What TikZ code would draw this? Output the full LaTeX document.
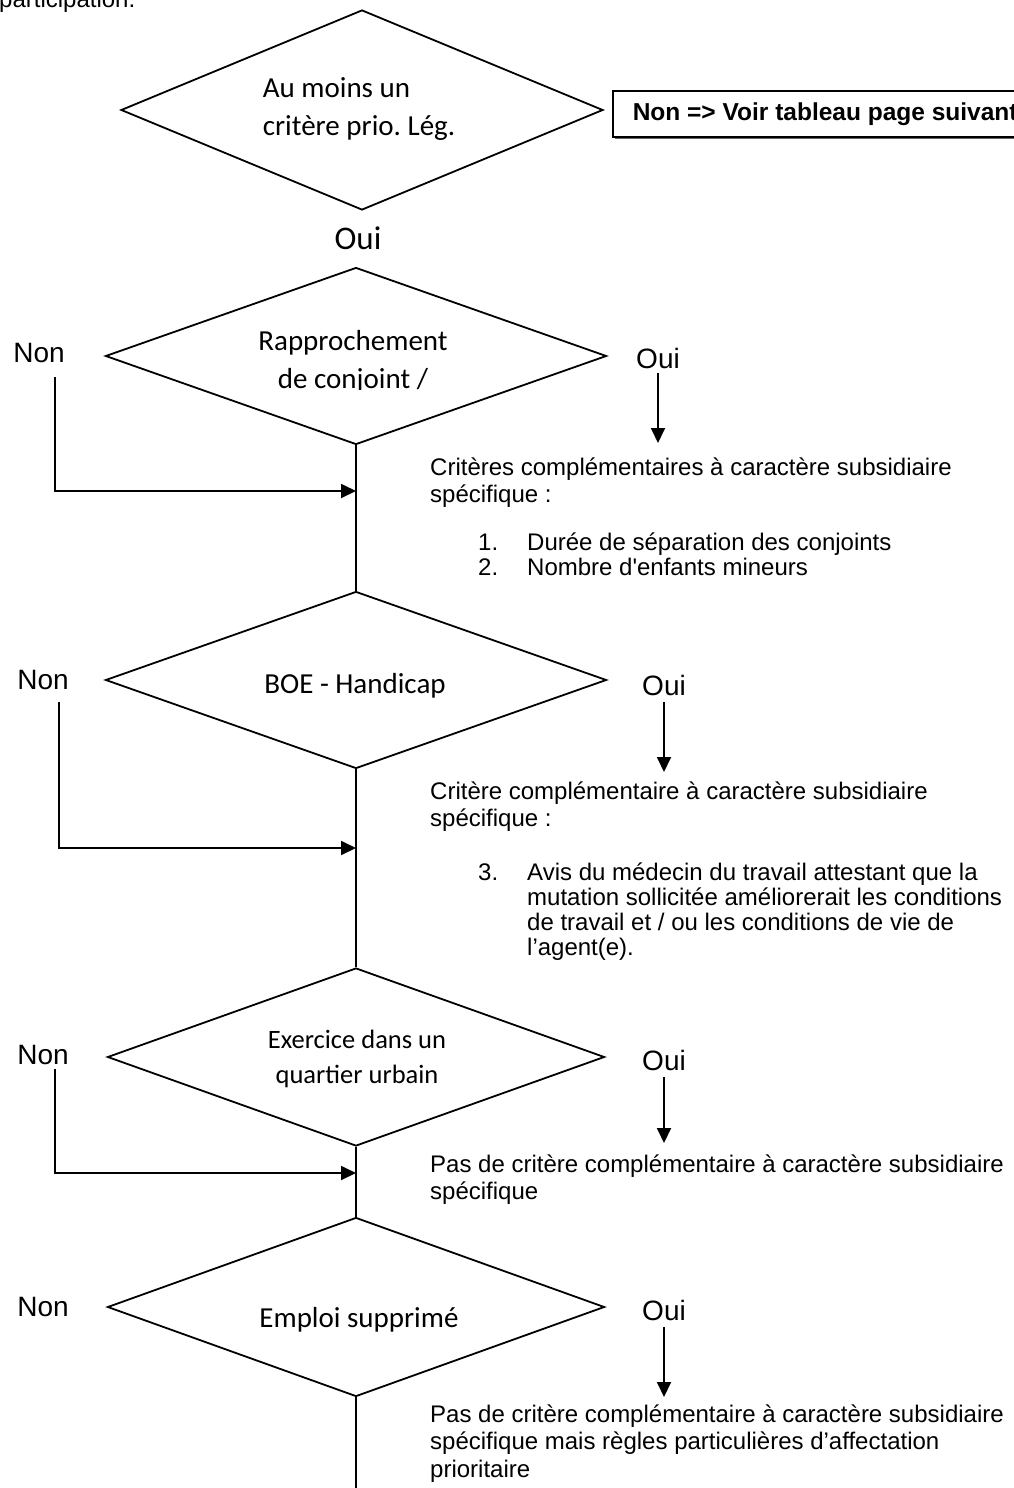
\documentclass[tikz,border=0pt]{standalone}
\usepackage{fontspec}
\setmainfont{Liberation Sans}
\newfontfamily\calibri{Carlito}
\usepackage{tikz}
\usetikzlibrary{shapes,arrows.meta,positioning,shadows}
\frenchspacing

\newcommand{\fs}[2]{\fontsize{#1}{#2}\selectfont}
\newcommand{\topstrut}{\rule{0pt}{20pt}}
\newcommand{\itemno}[1]{\makebox[49pt][l]{#1}}

\tikzset{
  decision/.style={draw, diamond, line width=1.8pt, inner sep=0pt},
  dtext/.style={font=\calibri\fs{29}{38}, inner sep=0pt, align=center},
  yesno/.style={font=\fs{28}{32}, inner sep=0pt},
  note/.style={font=\fs{24}{27.5}, inner sep=0pt, align=left, anchor=north west},
  listnote/.style={font=\fs{24}{25}, inner sep=0pt, align=left, anchor=north west},
  link/.style={line width=1.8pt},
  flow/.style={link, -{Triangle[length=15pt,width=14pt]}},
}

\begin{document}
\begin{tikzpicture}[x=1pt,y=-1pt]
    \useasboundingbox (0,0) rectangle (1013,1488);

    % Text cut at the top of the page
    \node[font=\fs{24}{27}, inner sep=0pt, anchor=base west] (intro) at (-1,8) {participation.};

    % Decision diamonds
    \node[decision, minimum width=482pt, minimum height=200pt] (d1) at (362,110) {};
    \node[decision, minimum width=501pt, minimum height=177pt] (d2) at (356,356) {};
    \node[decision, minimum width=501pt, minimum height=177pt] (d3) at (356,680) {};
    \node[decision, minimum width=497pt, minimum height=178pt] (d4) at (356,1057) {};
    \node[decision, minimum width=497pt, minimum height=179pt] (d5) at (356,1307) {};

    % Diamond texts
    \node[dtext, align=left] (t1) at (359,109) {Au moins un\\critère prio. Lég.};
    \begin{scope}
        \clip (200,300) rectangle (520,389);
        \node[dtext] (t2) at (353,362) {Rapprochement\\de conjoint /};
    \end{scope}
    \node[dtext] (t3) at (355,686) {BOE - Handicap};
    \node[dtext, font=\calibri\fs{26.5}{35}] (t4) at (357,1059) {Exercice dans un\\quartier urbain};
    \node[dtext] (t5) at (359,1320) {Emploi supprimé};

    % First answer
    \node[font=\calibri\fs{33}{38}, inner sep=0pt] (oui1) at (358,238) {Oui};
    \node[draw, line width=1.5pt, fill=white, font=\bfseries\fs{24.5}{28}, anchor=west,
          minimum height=46pt, inner xsep=20pt,
          drop shadow={shadow xshift=2pt, shadow yshift=-2pt, fill=black!60, opacity=1}]
          (nonbox) at (612,114) {Non => Voir tableau page suivante};

    % Non / Oui labels
    \node[yesno] (n2) at (39,353) {Non};
    \node[yesno] (n3) at (43,680) {Non};
    \node[yesno] (n4) at (43,1055) {Non};
    \node[yesno] (n5) at (43,1307) {Non};
    \node[yesno] (o2) at (658,358) {Oui};
    \node[yesno] (o3) at (664,685) {Oui};
    \node[yesno] (o4) at (664,1060) {Oui};
    \node[yesno] (o5) at (664,1310) {Oui};

    % Subsidiary criteria
    \node[note] (c2) at (430,455) {\topstrut Critères complémentaires à caractère subsidiaire\\spécifique :};
    \node[listnote] (l2) at (478,530) {\topstrut\itemno{1.}Durée de séparation des conjoints\\
        \itemno{2.}Nombre d\textquotesingle enfants mineurs};
    \node[note] (c3) at (430,779) {\topstrut Critère complémentaire à caractère subsidiaire\\spécifique :};
    \node[listnote] (l3) at (478,860) {\topstrut\itemno{3.}Avis du médecin du travail attestant que la\\
        \hspace*{49pt}mutation sollicitée améliorerait les conditions\\
        \hspace*{49pt}de travail et / ou les conditions de vie de\\
        \hspace*{49pt}l’agent(e).};
    \node[note] (c4) at (430,1152) {\topstrut Pas de critère complémentaire à caractère subsidiaire\\spécifique};
    \node[note] (c5) at (430,1402) {\topstrut Pas de critère complémentaire à caractère subsidiaire\\
        spécifique mais règles particulières d’affectation\\prioritaire};

    % Main line
    \coordinate (m2) at (356,491);
    \coordinate (m3) at (356,848);
    \coordinate (m4) at (356,1173);
    \coordinate (bottom) at (356,1500);
    \draw[link] (d2.south) -- (d3.north);
    \draw[link] (d3.south) -- (d4.north);
    \draw[link] (d4.south) -- (d5.north);
    \draw[link] (d5.south) -- (bottom);

    % Non branches
    \draw[flow] ([xshift=16pt,yshift=-14pt]n2.south) |- (m2);
    \draw[flow] ([xshift=16pt,yshift=-12pt]n3.south) |- (m3);
    \draw[flow] ([xshift=12pt,yshift=-4pt]n4.south) |- (m4);

    % Oui branches
    \coordinate (a2) at (658,443);
    \coordinate (a3) at (664,772);
    \coordinate (a4) at (664,1143);
    \coordinate (a5) at (664,1397);
    \draw[flow] ([yshift=-5pt]o2.south) -- (a2);
    \draw[flow] ([yshift=-7pt]o3.south) -- (a3);
    \draw[flow] ([yshift=-7pt]o4.south) -- (a4);
    \draw[flow] ([yshift=-7pt]o5.south) -- (a5);

\end{tikzpicture}
\end{document}
